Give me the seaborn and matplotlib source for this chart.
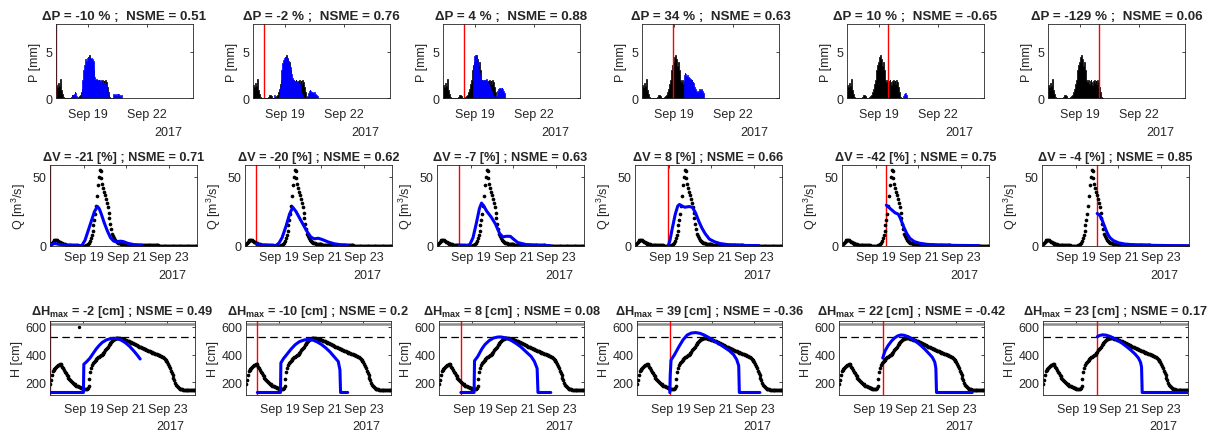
import numpy as np
import matplotlib
matplotlib.use("Agg")
import matplotlib.pyplot as plt
import seaborn as sns

sns.set_theme(style="white")
plt.rcParams['font.family'] = ['Liberation Sans', 'DejaVu Sans']
plt.rcParams['mathtext.fontset'] = 'custom'
plt.rcParams['mathtext.rm'] = 'Liberation Sans'
plt.rcParams['mathtext.bf'] = 'Liberation Sans:bold'
plt.rcParams['mathtext.it'] = 'Liberation Sans:italic'

# ---------------- data (time = day of September 2017) ----------------
t0 = 17.41                      # first hourly observation
forecast_start = [17.41, 17.94, 18.45, 18.97, 19.49, 20.00]
dP = [-10, -2, 4, 34, 10, -129]
nsme_P = [0.51, 0.76, 0.88, 0.63, -0.65, 0.06]
dV = [-21, -20, -7, 8, -42, -4]
nsme_Q = [0.71, 0.62, 0.63, 0.66, 0.75, 0.85]
dH = [-2, -10, 8, 39, 22, 23]
nsme_H = [0.49, 0.2, 0.08, -0.36, -0.42, 0.17]

H_alarm = 622      # grey solid reference level [cm]
H_warn = 528       # dashed reference level [cm]

# observed rainfall, hourly from t0 [mm]
obs_P = [1.0, 1.4, 1.2, 1.6, 1.3, 2.1, 1.5, 0.9, 0.4, 0.1,
         0, 0, 0, 0, 0, 0, 0, 0, 0,
         0.15, 0.3, 0.35, 0.2, 0.1, 0, 0, 0, 0.1, 0.2, 0.3,
         0.3, 0.6, 1.0, 1.5, 1.9, 2.5, 3.0, 3.6, 3.9, 4.4,
         4.6, 4.7, 4.2, 3.5, 3.9, 3.0, 2.4, 2.0, 1.7, 1.9,
         1.5, 1.8, 2.0, 1.7, 1.4, 1.8, 1.9, 1.6, 1.8, 1.5,
         1.9, 1.7, 1.2, 0.6, 0.3, 0.1, 0]

# forecast rainfall per run: first hour and hourly values [mm]
fc_P_first = [18.20, 18.49, 18.92, 19.53, 20.25, 20.45]
fc_P1 = [0.2, 0.3, 0.1, 0.4, 0.6, 0.5, 0.2, 0, 0, 0, 0, 0,
         0.5, 2.0, 3.0, 3.6, 4.0, 4.2, 4.0, 4.3, 4.4, 4.2, 4.3, 4.1,
         4.3, 4.2, 4.0, 3.5, 2.3, 2.0, 2.1, 2.0, 1.9, 2.0, 1.8, 1.9,
         1.7, 1.6, 1.5, 1.6, 1.4, 1.5, 1.2, 0.7, 0.2, 0, 0, 0,
         0, 0, 0.2, 0.4, 0.3, 0.4, 0.3, 0.4, 0.3, 0.4, 0.3, 0.2, 0.3, 0.1]
fc_P2 = [0.3, 0.1, 0, 0, 0, 0, 0.4, 1.2, 2.2, 3.0, 3.8, 4.1,
         4.3, 4.4, 4.2, 4.4, 4.3, 4.0, 3.6, 3.3, 2.9, 2.6, 2.2, 2.0,
         1.7, 1.8, 1.6, 1.8, 1.7, 1.5, 1.6, 1.3, 0.9, 0.5, 0.2, 0.1,
         0, 0, 0, 0, 0.2, 0.5, 0.8, 0.9, 0.8, 0.6, 0.7, 0.5,
         0.6, 0.5, 0.4, 0.3, 0.2, 0.1]
fc_P3 = [1.5, 3.5, 4.5, 4.7, 4.4, 4.0, 3.5, 3.1, 2.7, 2.3, 2.0, 1.8,
         1.7, 1.8, 2.0, 2.0, 2.1, 2.0, 1.8, 1.5, 1.3, 1.0, 0.8, 0.5,
         0.3, 0.2, 0.1, 0.1, 0.2, 0.5, 0.8, 1.0, 1.1, 1.1, 1.0, 1.1,
         1.0, 0.8, 0.5, 0.2]
fc_P4 = [2.5, 2.7, 2.6, 2.4, 2.5, 2.3, 2.2, 2.2, 2.1, 1.9, 1.7, 1.6,
         1.4, 1.2, 1.0, 0.8, 0.7, 0.8, 1.0, 1.0, 0.9, 1.0, 0.8, 0.5, 0.2]
fc_P5 = [0.2, 0.4, 0.5, 0.5, 0.3]
fc_P6 = [0.05, 0.05]

# observed discharge, hourly from t0 [m3/s]
obs_Q = [0.6, 1.5, 2.4, 3.1, 3.6, 4.0, 4.2, 4.2, 4.0, 3.7, 3.2, 2.7,
         2.3, 2.0, 1.7, 1.5, 1.3, 1.1, 1.0, 0.9, 0.8, 0.7, 0.7, 0.6,
         0.6, 0.5, 0.5, 0.5, 0.4, 0.4, 0.4, 0.4, 0.3, 0.3, 0.3, 0.3,
         0.3, 0.3, 0.3, 0.3, 0.3, 0.4, 0.6, 1.2, 2.0, 3.5, 5.5, 8.0,
         11, 15, 19, 23, 29, 36, 44, 50, 55, 54, 49, 45,
         42, 39, 37, 34, 31, 28, 24, 20, 16, 12, 9.0, 7.0,
         5.5, 4.5, 3.8, 3.2, 2.8, 2.4, 2.1, 1.9, 1.7, 1.6, 1.5, 1.4,
         1.3, 1.2, 1.1, 1.0, 1.0, 0.9, 0.9, 0.8, 0.8, 0.8, 0.7, 0.7,
         0.7, 0.7, 0.6, 0.6, 0.6, 0.6, 0.6, 0.5, 0.5, 0.5, 0.5, 0.5,
         0.5, 0.5, 0.5, 0.4, 0.4, 0.4, 0.4, 0.4, 0.4, 0.4, 0.4, 0.4,
         0.4, 0.4, 0.4, 0.3, 0.3, 0.3, 0.3, 0.3, 0.3, 0.3, 0.3, 0.3,
         0.3, 0.3, 0.3, 0.3, 0.3, 0.3, 0.3, 0.3, 0.3, 0.3, 0.3, 0.3,
         0.3, 0.3, 0.3, 0.3, 0.3, 0.3, 0.3, 0.3, 0.3, 0.3, 0.3, 0.3,
         0.3, 0.3, 0.3, 0.3, 0.3, 0.3, 0.3, 0.3, 0.3, 0.3]

# observed water level, hourly from t0 [cm]
obs_H = [190, 220, 255, 280, 290, 295, 300, 308, 315, 322, 328, 332,
         330, 322, 312, 302, 290, 278, 266, 255, 244, 234, 224, 215,
         207, 200, 195, 190, 186, 182, 178, 175, 172, 170, 166, 163,
         160, 158, 156, 155, 154, 154, 156, 162, 178, 225, 275, 305,
         325, 338, 348, 355, 362, 368, 374, 379, 384, 389, 394, 400,
         406, 413, 421, 429, 438, 447, 456, 465, 474, 482, 490, 497,
         503, 508, 512, 515, 517, 518, 518, 517, 516, 514, 512, 510,
         508, 506, 504, 502, 500, 498, 495, 492, 489, 486, 482, 479,
         476, 473, 470, 467, 463, 460, 457, 454, 451, 447, 444, 441,
         438, 436, 433, 430, 427, 425, 422, 419, 417, 414, 411, 409,
         406, 403, 401, 398, 395, 393, 390, 387, 384, 380, 376, 371,
         364, 355, 344, 332, 318, 302, 285, 268, 250, 232, 215, 198,
         184, 173, 165, 160, 156, 153, 151, 150, 149, 148, 148, 147,
         147, 146, 146, 146, 145, 145, 145, 144, 144, 144]
stray_H_col1 = (18.8, 598)

# simulated discharge per run: (time, value)
sim_Q = [
    [(17.41, 0.2), (17.5, 1.0), (17.6, 1.8), (17.7, 1.6), (17.9, 1.0), (18.2, 0.6),
     (18.5, 0.3), (18.9, 0.3), (19.05, 4), (19.2, 11), (19.35, 18), (19.5, 25),
     (19.64, 28.5), (19.72, 27), (19.82, 23), (19.95, 17), (20.1, 11), (20.25, 6),
     (20.4, 3.5), (20.55, 3.0), (20.7, 3.5), (20.85, 3.2), (21.05, 2.0), (21.35, 1.0),
     (21.72, 0.5)],
    [(17.94, 1.5), (18.1, 1.0), (18.4, 0.5), (18.85, 0.3), (19.0, 2), (19.15, 6),
     (19.35, 15), (19.5, 23), (19.65, 28), (19.8, 25), (20.05, 18), (20.3, 11),
     (20.5, 6.5), (20.65, 5.2), (20.85, 5.6), (21.05, 4.6), (21.3, 3.0), (21.6, 1.6),
     (21.9, 0.9), (22.25, 0.4)],
    [(18.45, 0.3), (18.75, 0.3), (18.95, 1.0), (19.1, 6), (19.25, 16), (19.4, 27),
     (19.5, 31), (19.6, 29), (19.75, 25), (19.95, 21), (20.15, 16), (20.35, 9),
     (20.5, 6.5), (20.65, 7), (20.85, 7), (21.0, 5), (21.2, 2.5), (21.6, 1.0),
     (22.2, 0.4), (22.73, 0.3)],
    [(18.97, 0.2), (19.05, 4), (19.15, 12), (19.3, 23), (19.42, 29), (19.5, 30),
     (19.6, 29), (19.75, 28), (19.95, 28.5), (20.1, 28), (20.25, 24), (20.4, 18),
     (20.55, 13), (20.7, 9), (20.9, 5), (21.15, 3), (21.4, 1.8), (21.8, 0.9),
     (22.5, 0.4), (23.23, 0.3)],
    [(19.49, 29.5), (19.6, 28), (19.75, 26), (19.9, 24), (20.05, 23), (20.15, 20),
     (20.3, 14), (20.45, 9), (20.6, 5.5), (20.8, 3.2), (21.05, 2.0), (21.4, 1.2),
     (22.0, 0.6), (23.0, 0.4), (23.83, 0.3)],
    [(20.0, 23.5), (20.1, 22.5), (20.2, 20), (20.3, 16), (20.4, 12), (20.5, 8.5),
     (20.6, 6), (20.75, 4), (21.0, 2.3), (21.3, 1.4), (21.8, 0.8), (22.5, 0.5),
     (23.5, 0.3), (24.3, 0.2)],
]

# simulated water level per run: (time, value)
sim_H = [
    [(17.41, 128), (19.0, 128), (19.02, 330), (19.15, 348), (19.3, 372), (19.45, 405),
     (19.6, 438), (19.75, 465), (19.9, 487), (20.1, 505), (20.3, 514), (20.45, 516),
     (20.6, 514), (20.8, 503), (21.0, 484), (21.2, 458), (21.4, 425), (21.55, 398),
     (21.7, 368)],
    [(17.95, 128), (19.05, 128), (19.07, 340), (19.2, 372), (19.35, 400), (19.55, 438),
     (19.75, 470), (19.95, 492), (20.2, 505), (20.4, 508), (20.6, 503), (20.8, 490),
     (21.0, 472), (21.2, 448), (21.4, 420), (21.6, 385), (21.8, 350), (21.88, 290),
     (21.91, 128), (22.25, 128)],
    [(18.45, 128), (19.08, 128), (19.1, 355), (19.25, 385), (19.45, 440), (19.6, 472),
     (19.8, 500), (20.0, 518), (20.2, 525), (20.35, 526), (20.55, 520), (20.8, 505),
     (21.05, 482), (21.3, 455), (21.55, 420), (21.8, 385), (21.95, 350), (22.08, 300),
     (22.12, 128), (22.73, 128)],
    [(18.97, 128), (18.99, 250), (19.03, 360), (19.2, 400), (19.4, 455), (19.6, 505),
     (19.8, 540), (20.0, 554), (20.2, 557), (20.4, 552), (20.6, 540), (20.8, 524),
     (21.0, 505), (21.2, 487), (21.4, 468), (21.6, 448), (21.8, 428), (22.0, 400),
     (22.15, 365), (22.25, 320), (22.28, 128), (23.26, 128)],
    [(19.49, 375), (19.6, 425), (19.75, 465), (19.9, 495), (20.05, 518), (20.2, 533),
     (20.35, 540), (20.5, 538), (20.7, 528), (20.9, 512), (21.1, 490), (21.3, 465),
     (21.5, 437), (21.7, 405), (21.85, 380), (21.97, 345), (22.02, 300), (22.05, 128),
     (23.75, 128)],
    [(20.0, 528), (20.1, 536), (20.25, 541), (20.4, 539), (20.6, 530), (20.8, 515),
     (21.0, 498), (21.2, 478), (21.4, 455), (21.6, 430), (21.8, 402), (21.95, 375),
     (22.05, 345), (22.1, 310), (22.13, 128), (24.3, 128)],
]
fc_P = [fc_P1, fc_P2, fc_P3, fc_P4, fc_P5, fc_P6]

xlim = (17.41, 24.31)
top_ticks, top_labels = [19, 22], ['Sep 19', 'Sep 22']
low_ticks, low_labels = [19, 21, 23], ['Sep 19', 'Sep 21', 'Sep 23']

# ---------------- layout ----------------
W, H = 1213, 435
fig = plt.figure(figsize=(W / 100, H / 100), dpi=100)
fig.patch.set_facecolor('white')

rows = {
    'P': dict(lefts=[56, 253, 443, 642, 847, 1048], top=25, w=137, h=74),
    'Q': dict(lefts=[50, 245, 437, 635, 842, 1042], top=166, w=147, h=81),
    'H': dict(lefts=[50, 246, 439, 637, 839, 1043], top=322, w=145, h=74),
}
AX_COL = '#262626'
TICK_FS = 9.0


def make_ax(r, c):
    spec = rows[r]
    left = spec['lefts'][c]
    return fig.add_axes([left / W, 1 - (spec['top'] + spec['h']) / H,
                         spec['w'] / W, spec['h'] / H])


def style(ax, ticks, labels, pad, year_off):
    ax.set_xlim(*xlim)
    ax.set_xticks(ticks)
    ax.set_xticklabels(labels)
    ax.tick_params(axis='both', direction='in', length=2.5, width=0.6,
                   top=True, right=True, labelsize=TICK_FS, colors=AX_COL)
    ax.tick_params(axis='x', pad=pad)
    ax.tick_params(axis='y', pad=2.5)
    for s in ax.spines.values():
        s.set_visible(True)
        s.set_color(AX_COL)
        s.set_linewidth(0.6)
    ax.set_facecolor('white')
    ax.grid(False)
    ax.annotate('2017', xy=(1, 0), xycoords='axes fraction', xytext=(-8, -year_off),
                textcoords='offset points', ha='right', va='center', fontsize=TICK_FS,
                color=AX_COL)


t_obs_P = t0 + np.arange(len(obs_P)) / 24
t_obs_Q = t0 + np.arange(len(obs_Q)) / 24
t_obs_H = t0 + np.arange(len(obs_H)) / 24

for c in range(6):
    # ---- rainfall ----
    ax = make_ax('P', c)
    ax.fill_between(t_obs_P, 0, obs_P, step='mid', color='black', linewidth=0.5)
    tf = fc_P_first[c] + np.arange(len(fc_P[c])) / 24
    ax.fill_between(tf, 0, fc_P[c], step='mid', color='#0000ff', linewidth=0.5)
    ax.axvline(forecast_start[c], color='red', lw=1.0)
    ax.set_ylim(0, 8)
    ax.set_yticks([0, 5])
    style(ax, top_ticks, top_labels, 7.0, 24.5)
    ax.set_ylabel('P [mm]', fontsize=TICK_FS, color=AX_COL, labelpad=3)
    ax.set_title(f"ΔP = {dP[c]} % ;  NSME = {nsme_P[c]:g}", fontsize=9.6,
                 fontweight='bold', pad=3.5)

    # ---- discharge ----
    ax = make_ax('Q', c)
    ax.axvline(forecast_start[c], color='red', lw=1.0, zorder=1)
    sns.scatterplot(x=t_obs_Q, y=obs_Q, ax=ax, color='black', s=7, linewidth=0,
                    zorder=2)
    tq = [p[0] for p in sim_Q[c]]
    vq = [p[1] for p in sim_Q[c]]
    sns.lineplot(x=tq, y=vq, ax=ax, color='#0000ff', linewidth=2.2, sort=False,
                 estimator=None, zorder=3)
    ax.set_ylim(0, 58.5)
    ax.set_yticks([0, 50])
    style(ax, low_ticks, low_labels, 3.5, 21)
    ax.set_ylabel('Q [m$^3$/s]', fontsize=TICK_FS, color=AX_COL, labelpad=3)
    ax.set_title(f"ΔV = {dV[c]} [%] ; NSME = {nsme_Q[c]:g}", fontsize=9.2,
                 fontweight='bold', pad=3.5)

    # ---- water level ----
    ax = make_ax('H', c)
    ax.axhline(H_alarm, color='#8c8c8c', lw=1.8, zorder=1)
    ax.axhline(H_warn, color='black', lw=0.9, ls=(0, (6, 3.5)), zorder=1)
    ax.axvline(forecast_start[c], color='red', lw=1.0, zorder=1)
    sns.scatterplot(x=t_obs_H, y=obs_H, ax=ax, color='black', s=7, linewidth=0,
                    zorder=2)
    if c == 0:
        ax.scatter([stray_H_col1[0]], [stray_H_col1[1]], color='black', s=2, zorder=2)
    th = [p[0] for p in sim_H[c]]
    vh = [p[1] for p in sim_H[c]]
    sns.lineplot(x=th, y=vh, ax=ax, color='#0000ff', linewidth=2.2, sort=False,
                 estimator=None, zorder=3)
    ax.set_ylim(110, 640)
    ax.set_yticks([200, 400, 600])
    style(ax, low_ticks, low_labels, 5.5, 22.5)
    ax.set_ylabel('H [cm]', fontsize=TICK_FS, color=AX_COL, labelpad=2)
    ax.set_title(f"ΔH$_{{\\mathbf{{max}}}}$ = {dH[c]} [cm] ; NSME = {nsme_H[c]:g}",
                 fontsize=9.2, fontweight='bold', pad=5)

fig.savefig('out.png', dpi=100, facecolor='white')
